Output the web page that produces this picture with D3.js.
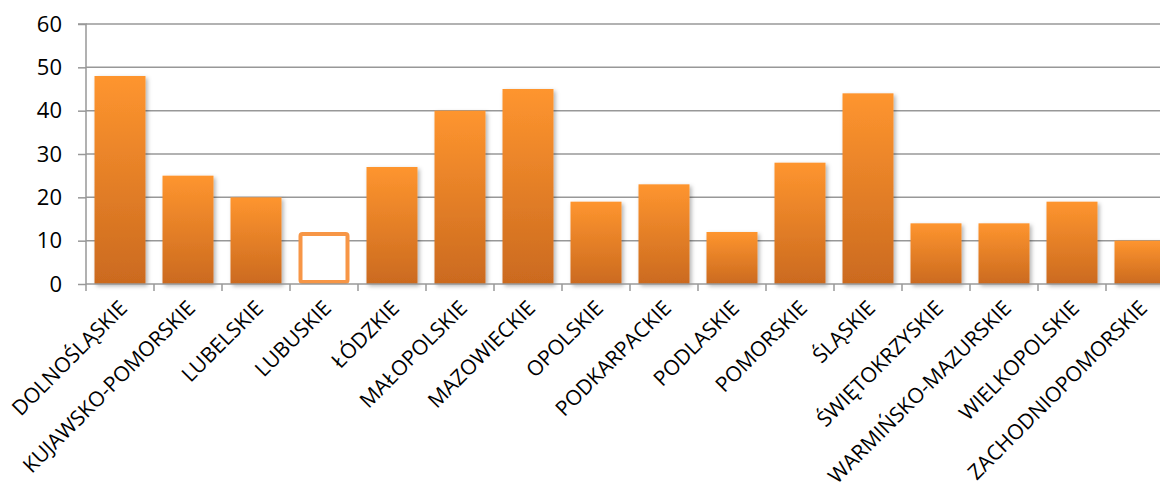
<!DOCTYPE html>
<html><head><meta charset="utf-8">
<script src="https://cdn.jsdelivr.net/npm/d3@7"></script>
<style>
html,body{margin:0;padding:0;background:#fff;}
svg{display:block;}
text{font-family:"Open Sans",sans-serif;fill:#000;}
</style></head>
<body>
<script>
const categories = ["DOLNOŚLĄSKIE","KUJAWSKO-POMORSKIE","LUBELSKIE","LUBUSKIE","ŁÓDZKIE","MAŁOPOLSKIE","MAZOWIECKIE","OPOLSKIE","PODKARPACKIE","PODLASKIE","POMORSKIE","ŚLĄSKIE","ŚWIĘTOKRZYSKIE","WARMIŃSKO-MAZURSKIE","WIELKOPOLSKIE","ZACHODNIOPOMORSKIE"];
const values = [48,25,20,12,27,40,45,19,23,12,28,44,14,14,19,10];
const highlighted = ["LUBUSKIE"];
const yTicks = [0,10,20,30,40,50,60];

const W = 1160, H = 488;
const svg = d3.select("body").append("svg").attr("width", W).attr("height", H);
const defs = svg.append("defs");
const grad = defs.append("linearGradient").attr("id","barGrad").attr("x1",0).attr("y1",0).attr("x2",0).attr("y2",1);
grad.append("stop").attr("offset","0%").attr("stop-color","#FE952F");
grad.append("stop").attr("offset","100%").attr("stop-color","#CB6A1F");
const f = defs.append("filter").attr("id","shadow").attr("x","-20%").attr("y","-20%").attr("width","150%").attr("height","150%");
f.append("feDropShadow").attr("dx",2).attr("dy",2).attr("stdDeviation",2).attr("flood-color","#000").attr("flood-opacity",0.3);

const x0 = 86, bandStep = 68;
const x = d3.scaleBand().domain(categories).range([x0, x0 + bandStep*categories.length]).paddingInner(0.25).paddingOuter(0.125);
const y = d3.scaleLinear().domain([0,60]).range([284,24]);

// gridlines
svg.append("g").selectAll("line").data(yTicks.filter(d=>d>0)).join("line")
  .attr("x1", x0).attr("x2", W).attr("y1", d=>y(d)).attr("y2", d=>y(d))
  .attr("stroke","#989898").attr("stroke-width",1.5);

// y axis
const yAxis = svg.append("g").attr("transform",`translate(${x0},0)`)
  .call(d3.axisLeft(y).tickValues(yTicks).tickSize(8).tickPadding(16));
yAxis.select(".domain").attr("stroke","#989898").attr("stroke-width",1.5).attr("d",`M-8,${y(60)}H0V${y(0)}`);
yAxis.selectAll(".tick line").attr("stroke","#989898").attr("stroke-width",1.5);
yAxis.selectAll(".tick text").attr("font-size","22px").attr("font-family","Open Sans, sans-serif").attr("fill","#000");

// bars
const bars = svg.append("g");
categories.forEach((c,i)=>{
  const v = values[i];
  if (highlighted.includes(c)) {
    bars.append("rect").attr("x", x(c)+2).attr("y", y(v)+2).attr("width", x.bandwidth()-4).attr("height", y(0)-y(v)-4)
      .attr("rx",2).attr("fill","#fff").attr("stroke","#F79646").attr("stroke-width",4);
  } else {
    bars.append("rect").attr("x", x(c)).attr("y", y(v)).attr("width", x.bandwidth()).attr("height", y(0)-y(v))
      .attr("fill","url(#barGrad)").attr("filter","url(#shadow)");
  }
});

// x axis line + ticks
const xAxisG = svg.append("g");
xAxisG.append("line").attr("x1",x0).attr("x2",W).attr("y1",y(0)).attr("y2",y(0)).attr("stroke","#989898").attr("stroke-width",1.5);
const edges = d3.range(categories.length+1).map(i=>x0 + i*bandStep).filter(v=>v<=W);
xAxisG.selectAll("line.t").data(edges).join("line").attr("class","t")
  .attr("x1",d=>d).attr("x2",d=>d).attr("y1",y(0)).attr("y2",y(0)+7).attr("stroke","#989898").attr("stroke-width",1.5);

// x labels
svg.append("g").selectAll("text").data(categories).join("text")
  .attr("transform", d=>`translate(${x(d)+x.bandwidth()/2-2},${299}) rotate(-45)`)
  .attr("text-anchor","end").attr("dy","0.7em")
  .attr("font-size","21px")
  .text(d=>d);
</script>
</body></html>
